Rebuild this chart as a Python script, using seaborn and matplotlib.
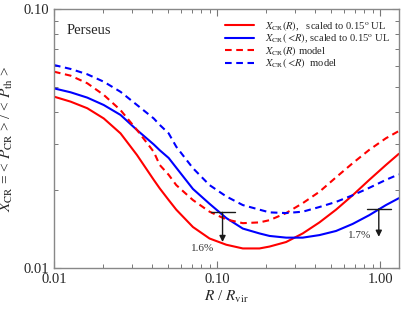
"""
Perseus: CR-to-thermal pressure ratio vs radius, with upper limits.
"""

import matplotlib
matplotlib.use("Agg")
import pandas as pd
import matplotlib.pyplot as plt
from matplotlib.ticker import NullFormatter
import seaborn as sns

# Data (R / R_vir on log axis)
r_grid = [0.01, 0.01265, 0.0160, 0.0202, 0.0256, 0.0323, 0.0409, 0.0445,
          0.0505, 0.0562, 0.0711, 0.0899, 0.1138, 0.1438, 0.1819, 0.2095,
          0.265, 0.335, 0.424, 0.536, 0.678, 0.857, 1.084, 1.3]

x_cr_r_scaled = [0.0459, 0.0439, 0.0414, 0.0378, 0.0331, 0.0273, 0.0219, 0.0203,
                 0.0183, 0.0168, 0.0144, 0.0130, 0.0123, 0.0119, 0.0119, 0.0121,
                 0.0126, 0.0136, 0.0150, 0.0168, 0.0191, 0.0219, 0.0250, 0.0276]
x_cr_lt_scaled = [0.0494, 0.0477, 0.0455, 0.0426, 0.0390, 0.0341, 0.0300, 0.0285,
                  0.0266, 0.0244, 0.0202, 0.0177, 0.0156, 0.0142, 0.0136, 0.0133,
                  0.0131, 0.0131, 0.0134, 0.0139, 0.0148, 0.0160, 0.0175, 0.0186]
x_cr_r_model = [0.0573, 0.0553, 0.0517, 0.0466, 0.0407, 0.0341, 0.0281, 0.0250,
                0.0229, 0.0209, 0.0183, 0.0165, 0.0154, 0.0149, 0.0150, 0.0153,
                0.0163, 0.0178, 0.0197, 0.0224, 0.0254, 0.0286, 0.0317, 0.0338]
x_cr_lt_model = [0.0608, 0.0587, 0.0560, 0.0524, 0.0479, 0.0426, 0.0378, 0.0357,
                 0.0331, 0.0294, 0.0243, 0.0209, 0.0189, 0.0175, 0.0168, 0.0164,
                 0.0163, 0.0165, 0.0172, 0.0180, 0.0191, 0.0204, 0.0219, 0.0230]

series_labels = [
    r"$X_{\rm CR}(R)$,   scaled to 0.15$^{\rm o}$ UL",
    r"$X_{\rm CR}(<\!R)$, scaled to 0.15$^{\rm o}$ UL",
    r"$X_{\rm CR}(R)$ model",
    r"$X_{\rm CR}(<\!R)$  model",
]

# Upper limits
ul_x = [0.108, 0.98]
ul_y = [0.0164, 0.0169]
ul_tip = [0.0126, 0.0132]
ul_text = ["1.6%", "1.7%"]

sns.set_theme(style="ticks")
plt.rcParams.update({
    "font.family": ["Liberation Serif", "DejaVu Serif"],
    "mathtext.fontset": "stix",
    "xtick.direction": "in",
    "ytick.direction": "in",
    "xtick.top": True,
    "ytick.right": True,
})

fig = plt.figure(figsize=(4.15, 3.12), dpi=100)
ax = fig.add_axes([0.130, 0.141, 0.831, 0.830])

styles = [("#ff0000", "-"), ("#0000ff", "-"), ("#ff0000", "--"), ("#0000ff", "--")]
values = [x_cr_r_scaled, x_cr_lt_scaled, x_cr_r_model, x_cr_lt_model]
for vals, label, (col, ls) in zip(values, series_labels, styles):
    df = pd.DataFrame({"r": r_grid, "x": vals})
    sns.lineplot(data=df, x="r", y="x", ax=ax, color=col, lw=1.5,
                 label=label, sort=False, estimator=None)
    line = ax.get_lines()[-1]
    if ls == "--":
        line.set_dashes((3.2, 2.2))

# Upper-limit bars and arrows
for i, (x0, y0, yt, txt) in enumerate(zip(ul_x, ul_y, ul_tip, ul_text)):
    ax.plot([x0 / 1.185, x0 * 1.185], [y0, y0], color="k", lw=1.0)
    ax.annotate("", xy=(x0, yt), xytext=(x0, y0),
                arrowprops=dict(arrowstyle="-|>", color="k", lw=1.0,
                                mutation_scale=9, shrinkA=0, shrinkB=0))
    if i == 0:
        ax.text(0.0815, 0.0119, txt, fontsize=8, ha="center", va="center",
                color="#333333")
    else:
        ax.text(0.885, 0.0134, txt, fontsize=8, ha="right", va="center",
                color="#333333")

ax.set_xscale("log")
ax.set_yscale("log")
ax.set_xlim(0.01, 1.3)
ax.set_ylim(0.01, 0.1)
ax.set_xticks([0.01, 0.1, 1.0])
ax.set_xticklabels(["0.01", "0.10", "1.00"])
ax.set_yticks([0.01, 0.1])
ax.set_yticklabels(["0.01", "0.10"])
ax.xaxis.set_minor_formatter(NullFormatter())
ax.yaxis.set_minor_formatter(NullFormatter())
ax.tick_params(which="major", length=5, width=0.8, labelsize=10.5, color="#777777")
ax.tick_params(which="minor", length=3, width=0.7, color="#777777")
for sp in ax.spines.values():
    sp.set_color("#888888")
    sp.set_linewidth(1.0)

ax.set_xlabel(r"$R$ / $R_{\rm vir}$", fontsize=11, labelpad=2)
ax.set_ylabel(r"$X_{\rm CR}$ = < $P_{\rm CR}$ > / < $P_{\rm th}$ >", fontsize=11,
              labelpad=6)

ax.text(0.038, 0.919, "Perseus", transform=ax.transAxes, fontsize=10.5,
        ha="left", va="center")

ax.legend(loc="upper left", bbox_to_anchor=(0.496, 0.962), frameon=False,
          fontsize=7.6, handlelength=2.75, handletextpad=1.0,
          labelspacing=-0.12, borderaxespad=0.0, borderpad=0.0)

fig.savefig("out.png", dpi=100)
